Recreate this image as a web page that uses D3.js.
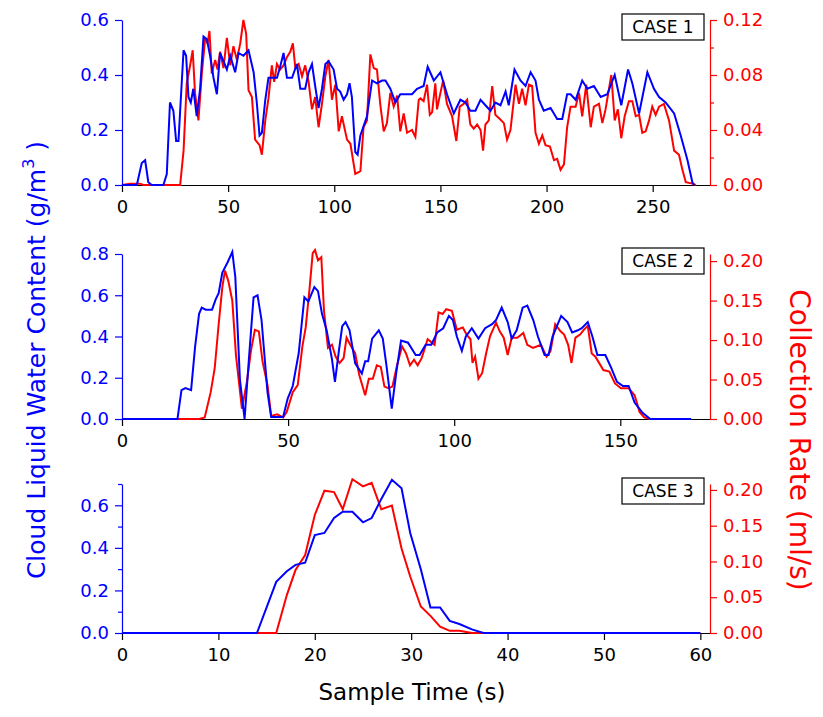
<!DOCTYPE html>
<html><head><meta charset="utf-8">
<script src="https://cdn.jsdelivr.net/npm/d3@7"></script>
<style>
body{margin:0;background:#fff}
text{font-family:"DejaVu Sans",sans-serif}
</style></head>
<body><svg id="chart" width="823" height="717"></svg>
<script>
// case 1 : cloud liquid water content (g/m3) and collection rate (ml/s)
var lwc1 = [[0,0],[7,0],[9.3,0.08],[10.9,0.09],[12.4,0.01],[14,0],[19.5,0],[21.1,0.04],[22.6,0.30],[24.2,0.27],[25.5,0.16],[26.6,0.16],[27.4,0.27],[29,0.49],[30.2,0.47],[31.3,0.32],[32.4,0.30],[33.6,0.35],[35.2,0.25],[36.8,0.35],[38.4,0.54],[40,0.53],[41.5,0.47],[43.1,0.39],[44.7,0.33],[46.2,0.48],[47.8,0.45],[49.4,0.42],[51,0.47],[53.3,0.41],[54.9,0.48],[57.2,0.47],[59.6,0.49],[62,0.41],[63.5,0.30],[64.8,0.18],[65.9,0.19],[67.5,0.31],[69,0.39],[71.4,0.39],[73,0.39],[74.5,0.43],[76.1,0.48],[77.7,0.39],[80.1,0.39],[82.4,0.44],[84,0.35],[86.3,0.35],[87.9,0.41],[89.5,0.44],[91,0.36],[92.6,0.28],[94.2,0.35],[95.8,0.44],[97.3,0.45],[99.7,0.42],[101.3,0.35],[102.8,0.34],[104.4,0.31],[106,0.33],[107.2,0.37],[108.3,0.32],[109.9,0.12],[111,0.11],[112.3,0.18],[115.4,0.25],[117.8,0.38],[120.1,0.37],[122.5,0.38],[124.1,0.38],[126.4,0.35],[128.8,0.30],[131.1,0.33],[134.3,0.33],[136.6,0.33],[139,0.35],[142.1,0.36],[144,0.43],[146.9,0.38],[150,0.41],[153.1,0.33],[156.3,0.26],[159.4,0.31],[161.8,0.30],[164.1,0.27],[166.5,0.27],[168.9,0.31],[171.2,0.29],[173.6,0.27],[175.9,0.30],[178.3,0.29],[180.7,0.34],[182.2,0.29],[184.9,0.42],[187.7,0.38],[190.1,0.36],[192.5,0.41],[194.8,0.38],[196.4,0.31],[198.7,0.27],[201.9,0.28],[205,0.24],[207.4,0.24],[209.7,0.33],[211.3,0.33],[213.7,0.31],[216.8,0.38],[219.2,0.35],[222.3,0.36],[225.5,0.32],[228.6,0.33],[232.1,0.40],[235.2,0.29],[238.4,0.42],[240.4,0.37],[243.6,0.26],[247.5,0.41],[250.6,0.35],[253,0.32],[256.1,0.30],[260.1,0.26],[263.2,0.18],[266.4,0.09],[268.7,0.01],[269.5,0]]
var rate1 = [[0,0],[3.8,0.001],[8.5,0.001],[10.1,0],[27.4,0],[29,0.025],[30.5,0.074],[32.1,0.087],[33.3,0.098],[34.4,0.067],[36,0.047],[37.6,0.081],[39.2,0.107],[40.3,0.103],[41.2,0.112],[42.3,0.081],[43.9,0.091],[45,0.084],[46.2,0.097],[47.8,0.085],[49.4,0.107],[51,0.087],[52.5,0.101],[54.1,0.091],[55.7,0.103],[57.2,0.12],[58.5,0.110],[59.6,0.069],[61.2,0.064],[62.7,0.033],[64.8,0.029],[65.9,0.022],[67.5,0.047],[69,0.063],[70.6,0.087],[71.7,0.075],[73,0.088],[74.5,0.084],[76.1,0.087],[77.7,0.093],[79.3,0.097],[80.5,0.103],[81.6,0.086],[83.2,0.088],[84.8,0.079],[86.3,0.087],[87.9,0.075],[89.5,0.055],[91,0.064],[92.6,0.042],[94.2,0.059],[95.8,0.079],[97.3,0.091],[98.9,0.062],[100.5,0.073],[102.1,0.039],[103.6,0.05],[106,0.033],[107.6,0.030],[109.9,0.008],[112.3,0.01],[113.8,0.042],[115.4,0.047],[117,0.095],[118.6,0.085],[120.1,0.084],[121.7,0.058],[123.3,0.039],[124.8,0.045],[126.4,0.067],[128,0.057],[129.6,0.065],[131.1,0.039],[132.7,0.052],[134.3,0.038],[136.6,0.04],[138.2,0.035],[139.8,0.062],[140.6,0.063],[142.1,0.061],[143.7,0.073],[145,0.051],[146.1,0.053],[147.6,0.074],[148.4,0.055],[150,0.067],[151.3,0.076],[153.1,0.059],[155.5,0.05],[157.5,0.032],[159.1,0.057],[161,0.059],[162.6,0.062],[164.1,0.044],[165.7,0.041],[167.3,0.044],[168.9,0.04],[170.1,0.025],[171.2,0.044],[172.8,0.047],[174.4,0.072],[175.9,0.051],[178,0.048],[179.9,0.045],[181.4,0.033],[183,0.04],[185.4,0.073],[187,0.059],[188.5,0.07],[190.1,0.058],[191.7,0.073],[193.2,0.072],[194.8,0.038],[196.4,0.03],[198,0.036],[199.5,0.029],[201.6,0.028],[203.5,0.018],[205,0.019],[206.6,0.011],[208.2,0.015],[209.7,0.042],[211.3,0.057],[213.7,0.057],[215.3,0.067],[216.8,0.05],[218.7,0.073],[220.8,0.042],[222.3,0.057],[224.7,0.059],[226.3,0.045],[227.8,0.055],[230.5,0.08],[232.1,0.047],[233.6,0.055],[235.2,0.034],[236.8,0.05],[238.8,0.061],[240.4,0.061],[242,0.05],[243.6,0.051],[245.1,0.038],[246.7,0.039],[248.3,0.047],[249.8,0.057],[251.4,0.051],[253,0.057],[255.3,0.059],[257.7,0.047],[260.1,0.025],[262.4,0.022],[264,0.011],[265.6,0.002],[268.7,0.001],[270.3,0]]

// case 2
var lwc2 = [[0,0],[16.7,0],[17.9,0.14],[19.1,0.15],[20.8,0.14],[22,0.35],[23.2,0.51],[24,0.54],[25.2,0.53],[27.1,0.53],[28.2,0.58],[29.1,0.61],[30.2,0.71],[31.8,0.76],[33.2,0.81],[34.1,0.69],[35.5,0.19],[36.9,0],[38.2,0.29],[39.6,0.59],[40.8,0.60],[42,0.48],[43.8,0.13],[44.9,0.01],[48.5,0.01],[49.9,0.10],[51.4,0.16],[53.2,0.32],[54.9,0.59],[56.1,0.57],[57.9,0.64],[59,0.62],[60.2,0.51],[61.6,0.43],[63.2,0.29],[64.1,0.18],[65.2,0.32],[66.3,0.45],[67.3,0.47],[68.5,0.43],[70.2,0.27],[72.2,0.22],[73.2,0.28],[74.1,0.28],[75.3,0.39],[77.3,0.43],[78.5,0.39],[79.6,0.26],[81.2,0.05],[82.6,0.23],[84,0.38],[86.1,0.37],[88.4,0.31],[89.6,0.31],[91.4,0.36],[93.1,0.36],[94.9,0.42],[96.7,0.44],[98.4,0.50],[99.6,0.48],[100.8,0.40],[102.3,0.33],[103.5,0.40],[105.3,0.44],[107.3,0.39],[109.3,0.44],[111.4,0.46],[112.6,0.48],[114.3,0.54],[116.1,0.47],[117.3,0.39],[118.8,0.43],[120.6,0.54],[122,0.55],[123.8,0.48],[125.2,0.40],[127.2,0.31],[128.4,0.31],[129.6,0.40],[132.2,0.50],[134.1,0.47],[135.5,0.42],[137.2,0.43],[138.4,0.44],[140.2,0.47],[141.6,0.40],[143.1,0.31],[145.5,0.31],[147.2,0.25],[149,0.18],[150.8,0.16],[152.5,0.16],[154.3,0.08],[156.7,0.03],[159,0],[171.3,0]]
var rate2 = [[0,0],[23.2,0],[24.9,0.002],[26.7,0.034],[27.9,0.064],[29.1,0.12],[30.2,0.167],[31,0.188],[32,0.175],[33.2,0.15],[34.3,0.081],[36.1,0.013],[37.6,0.047],[38.8,0.086],[40,0.113],[41.2,0.111],[42.3,0.073],[43.8,0.043],[44.9,0.004],[46.7,0.006],[48.5,0.002],[49.6,0.009],[51.4,0.034],[52.9,0.043],[54.3,0.092],[55.3,0.116],[56.5,0.167],[57.4,0.21],[58.1,0.214],[59,0.201],[60,0.205],[60.8,0.137],[62,0.09],[63.2,0.094],[64.3,0.079],[65.5,0.071],[66.7,0.077],[67.6,0.103],[68.7,0.094],[70.2,0.083],[71.4,0.056],[73.2,0.03],[74.3,0.051],[75.5,0.051],[76.7,0.068],[77.9,0.066],[79,0.041],[80.2,0.039],[81.4,0.041],[82.8,0.068],[84.3,0.092],[85.5,0.083],[86.7,0.068],[87.9,0.075],[89,0.068],[90.2,0.077],[92,0.101],[94.1,0.094],[95.3,0.135],[96.5,0.133],[97.6,0.139],[99.3,0.137],[100.8,0.113],[102.6,0.116],[103.7,0.107],[104.9,0.101],[105.5,0.071],[106.3,0.079],[107.3,0.051],[108.4,0.058],[109.6,0.083],[110.8,0.105],[112.6,0.122],[113.7,0.111],[114.9,0.103],[116.1,0.081],[117.3,0.103],[119,0.103],[120.8,0.109],[122,0.094],[123.7,0.09],[126.1,0.094],[127.8,0.079],[129,0.086],[130.4,0.12],[132,0.111],[133.1,0.107],[134.3,0.094],[135.3,0.071],[136.5,0.103],[137.9,0.107],[139,0.113],[140.2,0.118],[141.4,0.083],[142.5,0.079],[144.9,0.062],[146.7,0.06],[148.4,0.045],[150.2,0.039],[152.5,0.039],[154.3,0.03],[155.8,0.009],[157.2,0.002],[159,0],[171.3,0]]

// case 3
var lwc3 = [[0,0],[14,0],[16,0.24],[17.1,0.29],[18,0.32],[19,0.33],[20,0.46],[21,0.47],[22,0.54],[22.9,0.57],[23.9,0.57],[25,0.52],[25.9,0.54],[26.9,0.63],[28,0.72],[29,0.68],[29.9,0.47],[31,0.30],[32,0.12],[33,0.12],[34,0.057],[35,0.042],[36.3,0.017],[37.5,0],[60,0]]
var rate3 = [[0,0],[16,0],[17.1,0.053],[18,0.088],[19,0.109],[20,0.165],[21,0.199],[22,0.197],[22.9,0.173],[23.9,0.215],[25,0.205],[25.9,0.21],[26.9,0.173],[28,0.178],[29,0.118],[29.9,0.079],[31,0.037],[32,0.024],[33,0.009],[34,0.003],[35,0.003],[36.3,0],[60,0]]

var panels = [
  {name:'CASE 1', lwc:lwc1, rate:rate1, xMax:277, xTicks:[0,50,100,150,200,250],
   lMax:0.6, lTicks:[0,0.2,0.4,0.6], lMinor:[], rMax:0.12, rTicks:[0,0.04,0.08,0.12], rMinor:[0.02,0.06,0.1],
   top:20, bottom:185},
  {name:'CASE 2', lwc:lwc2, rate:rate2, xMax:177, xTicks:[0,50,100,150],
   lMax:0.8, lTicks:[0,0.2,0.4,0.6,0.8], lMinor:[], rMax:0.209, rTicks:[0,0.05,0.1,0.15,0.2], rMinor:[],
   top:254, bottom:419},
  {name:'CASE 3', lwc:lwc3, rate:rate3, xMax:61, xTicks:[0,10,20,30,40,50,60],
   lMax:0.7, lTicks:[0,0.2,0.4,0.6], lMinor:[0.1,0.3,0.5,0.7], rMax:0.2083, rTicks:[0,0.05,0.1,0.15,0.2], rMinor:[],
   top:484, bottom:633}
]

var svg = d3.select('#chart')
var left = 122, right = 710
var blue = '#0000ff', red = '#ff0000'

panels.forEach(function(p){
  var x  = d3.scaleLinear().domain([0,p.xMax]).range([left,right])
  var yl = d3.scaleLinear().domain([0,p.lMax]).range([p.bottom,p.top])
  var yr = d3.scaleLinear().domain([0,p.rMax]).range([p.bottom,p.top])
  var g = svg.append('g')

  var ax = g.append('g').attr('transform','translate(0,'+p.bottom+')')
    .call(d3.axisBottom(x).tickValues(p.xTicks).tickSize(7).tickSizeOuter(0).tickPadding(8))
  ax.selectAll('path,line').attr('stroke','#000').attr('stroke-width',1.2)
  ax.selectAll('text').attr('font-size',18).attr('fill','#000')

  var al = g.append('g').attr('transform','translate('+left+',0)')
    .call(d3.axisLeft(yl).tickValues(p.lTicks).tickFormat(d3.format('.1f')).tickSize(7).tickSizeOuter(0).tickPadding(6))
  al.append('g').call(d3.axisLeft(yl).tickValues(p.lMinor).tickFormat('').tickSize(4)).select('.domain').remove()
  al.selectAll('path,line').attr('stroke',blue).attr('stroke-width',1.2)
  al.selectAll('text').attr('font-size',18).attr('fill',blue)

  var ar = g.append('g').attr('transform','translate('+right+',0)')
    .call(d3.axisRight(yr).tickValues(p.rTicks).tickFormat(d3.format('.2f')).tickSize(7).tickSizeOuter(0).tickPadding(6))
  ar.append('g').call(d3.axisRight(yr).tickValues(p.rMinor).tickFormat('').tickSize(4)).select('.domain').remove()
  ar.selectAll('path,line').attr('stroke',red).attr('stroke-width',1.2)
  ar.selectAll('text').attr('font-size',18).attr('fill',red)

  g.append('path').datum(p.rate).attr('fill','none').attr('stroke',red).attr('stroke-width',2)
    .attr('d', d3.line().x(d=>x(d[0])).y(d=>yr(d[1])))
  g.append('path').datum(p.lwc).attr('fill','none').attr('stroke',blue).attr('stroke-width',2)
    .attr('d', d3.line().x(d=>x(d[0])).y(d=>yl(d[1])))

  var bx = g.append('g').attr('transform','translate('+(right-88)+','+(p.top-6)+')')
  bx.append('rect').attr('width',82).attr('height',26).attr('fill','#fff').attr('stroke','#000').attr('stroke-width',1.2)
  bx.append('text').attr('x',41).attr('y',19).attr('text-anchor','middle').attr('font-size',17).text(p.name)
})

svg.append('text').attr('x',412).attr('y',700).attr('text-anchor','middle').attr('font-size',23).text('Sample Time (s)')

var ylab = svg.append('text').attr('transform','translate(45,360) rotate(-90)').attr('text-anchor','middle')
  .attr('font-size',25).attr('fill',blue)
ylab.append('tspan').text('Cloud Liquid Water Content (g/m')
ylab.append('tspan').attr('dy',-11).attr('font-size',16).text('3')
ylab.append('tspan').attr('dy',11).text(' )')

svg.append('text').attr('transform','translate(790,440) rotate(90)').attr('text-anchor','middle')
  .attr('font-size',28).attr('fill',red).text('Collection Rate (ml/s)')
</script></body></html>
